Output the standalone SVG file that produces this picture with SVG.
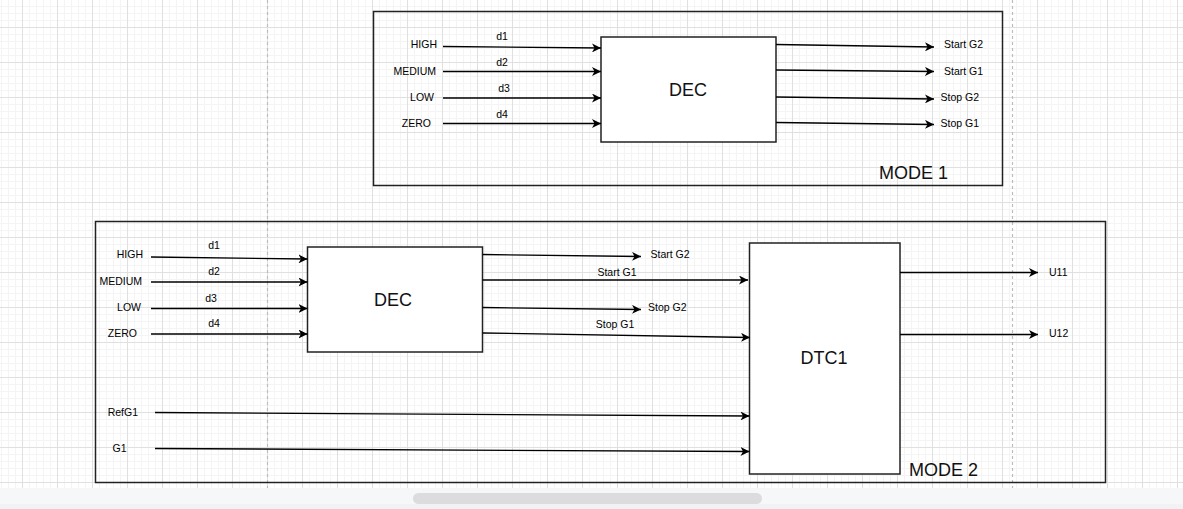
<svg xmlns="http://www.w3.org/2000/svg" width="1183" height="509" viewBox="0 0 1183 509">
<defs>
<pattern id="grid" patternUnits="userSpaceOnUse" x="22" y="27" width="35" height="35">
<rect width="35" height="35" fill="#ffffff"/>
<g fill="#f4f4f4">
<rect x="7" y="0" width="1" height="35"/><rect x="14" y="0" width="1" height="35"/><rect x="21" y="0" width="1" height="35"/><rect x="28" y="0" width="1" height="35"/>
<rect x="0" y="7" width="35" height="1"/><rect x="0" y="14" width="35" height="1"/><rect x="0" y="21" width="35" height="1"/><rect x="0" y="28" width="35" height="1"/>
</g>
<g fill="#e0e0e0">
<rect x="0" y="0" width="1" height="35"/><rect x="0" y="0" width="35" height="1"/>
</g>
</pattern>
<marker id="arr" markerUnits="userSpaceOnUse" markerWidth="10" markerHeight="9" refX="9" refY="4.5" orient="auto">
<path d="M0,0 L9,4.5 L0,9 L2.5,4.5 Z" fill="#000"/>
</marker>
</defs>
<style>
.box{fill:#ffffff;stroke:#222;stroke-width:1.5}
.frame{fill:none;stroke:#222;stroke-width:1.5}
.ln{fill:none;stroke:#000;stroke-width:1.3;marker-end:url(#arr)}
.t{font-family:"Liberation Sans",Arial,sans-serif;font-size:10.5px;fill:#000;dominant-baseline:central}
.big{font-family:"Liberation Sans",Arial,sans-serif;font-size:18px;fill:#111}
.page{stroke:#bdbdbd;stroke-width:1.2;stroke-dasharray:3,3}
</style>
<rect width="1183" height="509" fill="url(#grid)"/>
<line class="page" x1="267.5" y1="0" x2="267.5" y2="488"/>
<line class="page" x1="1012.5" y1="0" x2="1012.5" y2="488"/>
<g id="chrome">
<rect x="0" y="488" width="1183" height="21" fill="#f6f7f9"/>
<rect x="0" y="504" width="1183" height="5" fill="#f1f2f4"/>
<rect x="413" y="493" width="349" height="11" rx="5.5" fill="#dcdcdf"/>
</g>

<g id="mode1">
<rect class="frame" x="373.5" y="11.5" width="629" height="174"/>
<text class="big" x="879" y="179">MODE 1</text>
</g>
<g id="mode2">
<rect class="frame" x="95.5" y="221.5" width="1010" height="261"/>
<text class="big" x="909" y="476">MODE 2</text>
</g>

<g id="dec1">
<rect class="box" x="601" y="37" width="175" height="105"/>
<text class="big" x="688" y="90" text-anchor="middle" dominant-baseline="central">DEC</text>
</g>
<g id="dec2">
<rect class="box" x="307.5" y="247" width="175" height="105"/>
<text class="big" x="393" y="300" text-anchor="middle" dominant-baseline="central">DEC</text>
</g>
<g id="dtc1">
<rect class="box" x="749.5" y="243" width="150.5" height="231"/>
<text class="big" x="824" y="358" text-anchor="middle" dominant-baseline="central">DTC1</text>
</g>

<g id="labels1">
<text class="t" x="437" y="44" text-anchor="end">HIGH</text>
<text class="t" x="436" y="71" text-anchor="end">MEDIUM</text>
<text class="t" x="434" y="97" text-anchor="end">LOW</text>
<text class="t" x="431" y="123" text-anchor="end">ZERO</text>
<text class="t" x="502" y="36" text-anchor="middle">d1</text>
<text class="t" x="502" y="62" text-anchor="middle">d2</text>
<text class="t" x="504" y="88" text-anchor="middle">d3</text>
<text class="t" x="502" y="114" text-anchor="middle">d4</text>
<text class="t" x="944" y="44">Start G2</text>
<text class="t" x="944" y="71">Start G1</text>
<text class="t" x="940.5" y="97">Stop G2</text>
<text class="t" x="940.5" y="123">Stop G1</text>
</g>

<g id="labels2">
<text class="t" x="143" y="254" text-anchor="end">HIGH</text>
<text class="t" x="142" y="281" text-anchor="end">MEDIUM</text>
<text class="t" x="141" y="307" text-anchor="end">LOW</text>
<text class="t" x="137" y="333" text-anchor="end">ZERO</text>
<text class="t" x="214" y="245" text-anchor="middle">d1</text>
<text class="t" x="214" y="271" text-anchor="middle">d2</text>
<text class="t" x="211" y="298" text-anchor="middle">d3</text>
<text class="t" x="214" y="323" text-anchor="middle">d4</text>
<text class="t" x="650.5" y="254">Start G2</text>
<text class="t" x="617" y="272" text-anchor="middle">Start G1</text>
<text class="t" x="648" y="307">Stop G2</text>
<text class="t" x="615" y="324" text-anchor="middle">Stop G1</text>
<text class="t" x="1049" y="272">U11</text>
<text class="t" x="1049" y="333">U12</text>
<text class="t" x="138" y="412" text-anchor="end">RefG1</text>
<text class="t" x="112.5" y="448">G1</text>
</g>

<g id="connectors">
<line class="ln" x1="443" y1="46.5" x2="601" y2="48"/>
<line class="ln" x1="443" y1="71.5" x2="601" y2="71.5"/>
<line class="ln" x1="443" y1="98" x2="601" y2="98"/>
<line class="ln" x1="443" y1="123.5" x2="601" y2="123.5"/>
<line class="ln" x1="776" y1="44.5" x2="934" y2="47"/>
<line class="ln" x1="776" y1="70" x2="934" y2="71.5"/>
<line class="ln" x1="776" y1="97" x2="934" y2="99"/>
<line class="ln" x1="776" y1="122.5" x2="934" y2="124.5"/>

<line class="ln" x1="151" y1="257" x2="307.5" y2="259"/>
<line class="ln" x1="151" y1="282" x2="307.5" y2="282"/>
<line class="ln" x1="151" y1="308.5" x2="307.5" y2="308.5"/>
<line class="ln" x1="151" y1="334" x2="307.5" y2="334"/>
<line class="ln" x1="482.5" y1="254.5" x2="641" y2="256.5"/>
<line class="ln" x1="482.5" y1="280" x2="748" y2="280"/>
<line class="ln" x1="482.5" y1="307.5" x2="641" y2="309.5"/>
<line class="ln" x1="482.5" y1="333" x2="750" y2="337.5"/>
<line class="ln" x1="155" y1="412.5" x2="749.5" y2="416"/>
<line class="ln" x1="155" y1="448.5" x2="749.5" y2="451.5"/>
<line class="ln" x1="900" y1="272.5" x2="1038" y2="272.5"/>
<line class="ln" x1="900" y1="334.5" x2="1038" y2="334.5"/>
</g>
</svg>
